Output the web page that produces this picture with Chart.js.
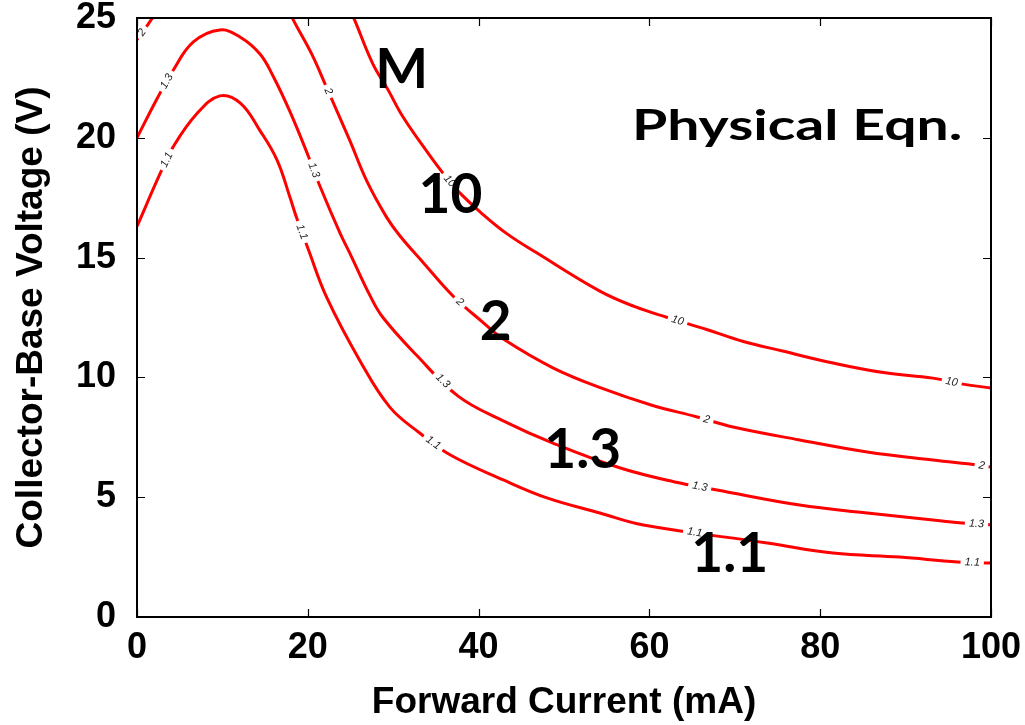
<!DOCTYPE html>
<html>
<head>
<meta charset="utf-8">
<script src="https://cdn.jsdelivr.net/npm/chart.js@4"></script>
<style>
  html, body { margin: 0; background: #fff; }
</style>
</head>
<body>
<canvas id="contourChart" width="1025" height="725"></canvas>
<script>
// ── Contour data: multiplication factor M over (forward current, collector-base voltage) ──
// M = 1.1
const m11X = [0, 2.7, 4.2, 7.0, 9.7, 12.1, 14.4, 16.4, 17.9, 18.7, 20.0, 22.2, 26.1, 29.6, 33.1, 36.7, 42.9, 48.0, 54.2, 59.3, 73.8, 81.5, 89.3, 96.1, 100];
const m11Y = [16.3, 18.5, 19.6, 21.0, 21.75, 21.45, 20.3, 19.07, 17.53, 16.65, 15.4, 13.35, 10.7, 8.76, 7.68, 6.76, 5.72, 4.97, 4.34, 3.84, 3.09, 2.67, 2.50, 2.30, 2.25];
// M = 1.3
const m13X = [0, 2.3, 4.2, 6.6, 9.7, 12.1, 14.4, 15.9, 17.9, 20.1, 21.4, 23.8, 24.9, 27.3, 28.8, 32.8, 37.6, 42.7, 48.7, 56.6, 63.6, 67.9, 77.6, 85.5, 93.2, 96.6, 100];
const m13Y = [20.0, 21.6, 22.8, 24.0, 24.5, 24.2, 23.5, 22.6, 21.1, 19.2, 18.0, 16.0, 15.2, 13.4, 12.5, 10.9, 9.22, 8.22, 7.26, 6.22, 5.59, 5.30, 4.67, 4.34, 4.05, 3.92, 3.85];
// M = 2 (peak runs above the 25 V frame)
const m2X = [0, 1.8, 5, 10, 15, 18.3, 20.45, 22.2, 24.9, 26.9, 29.2, 30.8, 33.5, 37.0, 40.5, 42.9, 48.7, 54.4, 60.2, 65.6, 69.8, 77.6, 85.5, 93.2, 98.5, 100];
const m2Y = [24.1, 25.0, 26.9, 28.2, 27.3, 24.92, 23.5, 22.1, 19.9, 18.2, 16.7, 15.9, 14.8, 13.4, 12.3, 11.6, 10.4, 9.55, 8.85, 8.35, 7.93, 7.39, 6.89, 6.55, 6.34, 6.26];
// M = 10 (enters from above the frame)
const m10X = [22, 25.5, 27.6, 29.4, 31.1, 34.0, 36.1, 37.8, 40.2, 43.3, 46.8, 54.2, 58.3, 62.1, 66.7, 71.0, 75.6, 81.5, 87.4, 93.2, 96.7, 100];
const m10Y = [27.8, 24.9, 23.1, 22.0, 20.9, 19.4, 18.4, 17.7, 16.9, 16.0, 15.2, 13.6, 12.95, 12.5, 12.0, 11.5, 11.1, 10.6, 10.2, 9.97, 9.72, 9.56];

const levelNames = ['1.1', '1.3', '2', '10'];
// forward current (mA) where each inline level label breaks its line
const m11LabelAt = [3.5, 19.3, 34.7, 65.3, 97.8];
const m13LabelAt = [3.5, 20.7, 35.8, 65.9, 98.3];
const m2LabelAt = [0.6, 22.4, 37.8, 66.7, 98.9];
const m10LabelAt = [36.6, 63.3, 95.4];

const xTicks = [0, 20, 40, 60, 80, 100];
const yTicks = [0, 5, 10, 15, 20, 25];

const toXY = (xs, ys) => xs.map((x, i) => ({ x, y: ys[i] }));

// ── Inline labels, big annotations, framed axes with inward ticks ──
const contourDecor = {
  id: 'contourDecor',
  afterDatasetsDraw(chart, args, opts) {
    const ctx = chart.ctx, area = chart.chartArea, xs = chart.scales.x, ys = chart.scales.y;
    ctx.save();
    ctx.beginPath();
    ctx.rect(area.left, area.top, area.right - area.left, area.bottom - area.top);
    ctx.clip();
    chart.data.datasets.forEach((ds, i) => {
      const pts = chart.getDatasetMeta(i).data;
      ds.labelAt.forEach(v => {
        const px = xs.getPixelForValue(v);
        let k = 0;
        while (k < pts.length - 2 && pts[k + 1].x < px) k++;
        const a = pts[k], b = pts[k + 1];
        const t = (px - a.x) / (b.x - a.x);
        const py = a.y + t * (b.y - a.y);
        const ang = Math.atan2(b.y - a.y, b.x - a.x);
        ctx.save();
        ctx.translate(px, py);
        ctx.rotate(ang);
        ctx.font = 'italic 11px "Liberation Sans", Arial';
        const w = ctx.measureText(ds.label).width;
        ctx.fillStyle = '#fff';
        ctx.fillRect(-w / 2 - 4, -7, w + 8, 14);
        ctx.fillStyle = '#222';
        ctx.textAlign = 'center';
        ctx.textBaseline = 'middle';
        ctx.fillText(ds.label, 0, 0);
        ctx.restore();
      });
    });
    ctx.restore();

    ctx.save();
    ctx.fillStyle = '#000';
    ctx.textAlign = 'center';
    ctx.textBaseline = 'alphabetic';
    opts.notes.forEach(n => {
      ctx.save();
      ctx.translate(xs.getPixelForValue(n.x), ys.getPixelForValue(n.y));
      ctx.scale(n.stretch || 1, 1);
      ctx.font = 'bold ' + n.size + 'px Lato, "Open Sans", sans-serif';
      ctx.fillText(n.text, 0, 0);
      ctx.restore();
    });
    ctx.restore();
  },
  afterDraw(chart) {
    const ctx = chart.ctx, a = chart.chartArea, xs = chart.scales.x, ys = chart.scales.y;
    const tl = 8;
    ctx.save();
    ctx.strokeStyle = '#000';
    ctx.lineWidth = 1.2;
    ctx.beginPath();
    xs.ticks.forEach(t => {
      const x = Math.round(xs.getPixelForValue(t.value)) + 0.5;
      ctx.moveTo(x, a.bottom); ctx.lineTo(x, a.bottom - tl);
      ctx.moveTo(x, a.top); ctx.lineTo(x, a.top + tl);
    });
    ys.ticks.forEach(t => {
      const y = Math.round(ys.getPixelForValue(t.value)) + 0.5;
      ctx.moveTo(a.left, y); ctx.lineTo(a.left + tl, y);
      ctx.moveTo(a.right, y); ctx.lineTo(a.right - tl, y);
    });
    ctx.stroke();
    ctx.lineWidth = 2;
    ctx.strokeRect(a.left, a.top, a.right - a.left, a.bottom - a.top);
    ctx.restore();
  }
};

const lineStyle = { borderColor: '#ff0000', borderWidth: 3, pointRadius: 0, fill: false, tension: 0.4, clip: 0 };

new Chart(document.getElementById('contourChart'), {
  type: 'line',
  data: {
    datasets: [
      { label: levelNames[0], data: toXY(m11X, m11Y), labelAt: m11LabelAt, ...lineStyle },
      { label: levelNames[1], data: toXY(m13X, m13Y), labelAt: m13LabelAt, ...lineStyle },
      { label: levelNames[2], data: toXY(m2X, m2Y), labelAt: m2LabelAt, ...lineStyle },
      { label: levelNames[3], data: toXY(m10X, m10Y), labelAt: m10LabelAt, ...lineStyle },
    ]
  },
  options: {
    responsive: false,
    animation: false,
    devicePixelRatio: 1,
    layout: { padding: { top: 18, right: 34, left: 0, bottom: 0 } },
    plugins: {
      legend: { display: false },
      tooltip: { enabled: false },
      contourDecor: {
        notes: [
          { text: 'M', x: 31.0, y: 22.08, size: 56 },
          { text: '10', x: 36.7, y: 16.86, size: 55 },
          { text: '2', x: 42.0, y: 11.56, size: 55 },
          { text: '1.3', x: 52.2, y: 6.22, size: 55 },
          { text: '1.1', x: 69.4, y: 1.88, size: 55 },
          { text: 'Physical Eqn.', x: 77.3, y: 19.9, size: 42, stretch: 1.36 },
        ]
      }
    },
    scales: {
      x: {
        type: 'linear', min: 0, max: 100,
        afterBuildTicks: s => { s.ticks = xTicks.map(v => ({ value: v })); },
        afterFit: s => { s.height = 108; s.paddingLeft = 0; s.paddingRight = 0; },
        grid: { display: false },
        border: { display: false },
        ticks: { color: '#000', padding: 1, font: { family: '"Liberation Sans", Arial', size: 36, weight: 'bold' } },
        title: { display: true, text: 'Forward Current (mA)', color: '#000', padding: 0, font: { family: '"Liberation Sans", Arial', size: 37, weight: 'bold' } }
      },
      y: {
        type: 'linear', min: 0, max: 25,
        afterBuildTicks: s => { s.ticks = yTicks.map(v => ({ value: v })); },
        afterFit: s => { s.width = 137; s.paddingTop = 0; s.paddingBottom = 0; },
        grid: { display: false },
        border: { display: false },
        ticks: { color: '#000', padding: 13, font: { family: '"Liberation Sans", Arial', size: 36, weight: 'bold' } },
        title: { display: true, text: 'Collector-Base Voltage (V)', color: '#000', padding: { top: 10, bottom: 0 }, font: { family: '"Liberation Sans", Arial', size: 37, weight: 'bold' } }
      }
    }
  },
  plugins: [contourDecor]
});
</script>
</body>
</html>
